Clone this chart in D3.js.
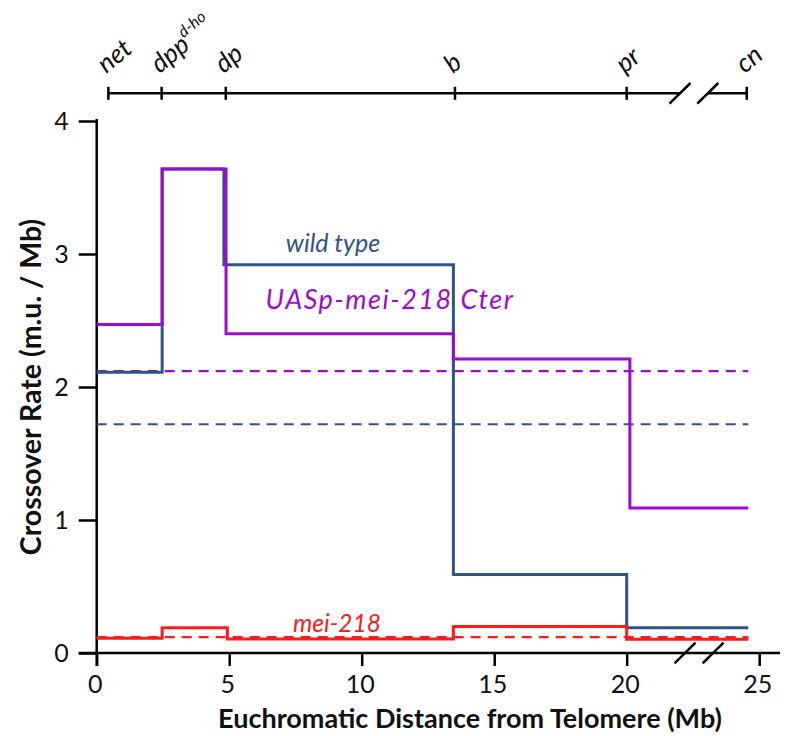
<!DOCTYPE html>
<html>
<head>
<meta charset="utf-8">
<script src="https://cdn.jsdelivr.net/npm/d3@7"></script>
<style>
  html, body { margin: 0; padding: 0; background: #fff; }
  svg { display: block; font-family: Lato, "Open Sans", sans-serif; }
</style>
</head>
<body>
<svg id="chart" width="786" height="736"></svg>
<script>
// Step boundaries (Mb) and crossover rates (m.u./Mb) for each genotype
const wildTypeBounds = [0, 2.47, 4.80, 13.46, 20.0, 24.59];
const wildTypeRates  = [2.11, 3.64, 2.92, 0.59, 0.19];
const wildTypeMean   = 1.72;

const cterBounds = [0, 2.47, 4.88, 13.46, 20.12, 24.59];
const cterRates  = [2.47, 3.64, 2.40, 2.21, 1.09];
const cterMean   = 2.12;

const mei218Bounds = [0, 2.47, 4.93, 13.46, 20.0, 24.59];
const mei218Rates  = [0.11, 0.19, 0.105, 0.20, 0.103];
const mei218Mean   = 0.12;

// Genetic markers along the chromosome arm (Mb)
const markerNames = ["net", "dpp", "dp", "b", "pr", "cn"];
const markerPos   = [0.44, 2.45, 4.87, 13.52, 20.0, 24.53];

const xTicks = [0, 5, 10, 15, 20, 25];
const yTicks = [0, 1, 2, 3, 4];

// Axis-break positions (Mb) on the marker map and on the distance axis
const mapBreaks  = [22.01, 23.06];
const axisBreaks = [22.2, 23.26];

const seriesLabels = ["wild type", "UASp-mei-218 Cter", "mei-218"];

const COL_WT = "#2f5486", COL_CTER = "#9a0ccf", COL_MEI = "#ff1a1a";

const svg = d3.select("#chart");
const x = d3.scaleLinear().domain([0, 25]).range([96.7, 759.2]);
const y = d3.scaleLinear().domain([0, 4]).range([653, 121]);

const END = 24.59;

// ---- helpers ----
function stepPoints(bounds, rates) {
  const pts = [];
  rates.forEach((r, i) => { pts.push([bounds[i], r]); pts.push([bounds[i + 1], r]); });
  return pts;
}
const line = d3.line().x(d => x(d[0])).y(d => y(d[1]));

function drawMean(v, color) {
  svg.append("path")
    .attr("d", line([[0, v], [END, v]]))
    .attr("fill", "none").attr("stroke", color)
    .attr("stroke-width", 2.2).attr("stroke-dasharray", "10,7");
}
function drawSteps(bounds, rates, color) {
  svg.append("path")
    .attr("d", line(stepPoints(bounds, rates)))
    .attr("fill", "none").attr("stroke", color)
    .attr("stroke-width", 3).attr("stroke-linejoin", "miter");
}
function slash(cx, cy) {
  svg.append("line")
    .attr("x1", cx - 10.5).attr("y1", cy + 10.3)
    .attr("x2", cx + 10.5).attr("y2", cy - 10.3)
    .attr("stroke", "#000").attr("stroke-width", 2.5);
}

// ---- left axis ----
const yAxis = d3.axisLeft(y).tickValues(yTicks).tickSize(18).tickPadding(10).tickFormat(d3.format("d"));
const gy = svg.append("g").attr("transform", `translate(${x(0)},0)`).call(yAxis);
gy.select(".domain").remove();
gy.selectAll(".tick line").attr("stroke", "#000").attr("stroke-width", 2.5);
gy.selectAll(".tick text").attr("font-size", 25).attr("fill", "#111").attr("font-family", "Lato");
gy.append("line").attr("x1", 0).attr("x2", 0).attr("y1", y(4) - 2).attr("y2", y(0) + 13)
  .attr("stroke", "#000").attr("stroke-width", 2.5);

// ---- bottom axis ----
const xAxis = d3.axisBottom(x).tickValues(xTicks).tickSize(13).tickPadding(9);
const gx = svg.append("g").attr("transform", `translate(0,${y(0)})`).call(xAxis);
gx.select(".domain").remove();
gx.selectAll(".tick line").attr("stroke", "#000").attr("stroke-width", 2.5);
gx.selectAll(".tick text").attr("font-size", 25).attr("fill", "#111").attr("font-family", "Lato").attr("dx", -2);
gx.append("line").attr("x1", x(0) - 18).attr("x2", 780).attr("y1", 0).attr("y2", 0)
  .attr("stroke", "#000").attr("stroke-width", 2.5);
axisBreaks.forEach(b => slash(x(b), y(0)));

// ---- axis titles ----
svg.append("text")
  .attr("x", 470).attr("y", 728).attr("text-anchor", "middle")
  .attr("font-size", 27).attr("font-weight", "bold").attr("fill", "#111")
  .text("Euchromatic Distance from Telomere (Mb)");
svg.append("text")
  .attr("transform", "translate(41,387) rotate(-90)").attr("text-anchor", "middle")
  .attr("font-size", 28.5).attr("font-weight", "bold").attr("fill", "#111")
  .text("Crossover Rate (m.u. / Mb)");

// ---- marker map on top ----
const mapY = 93.3;
const first = markerPos[0], last = markerPos[markerPos.length - 1];
svg.append("line").attr("x1", x(first)).attr("x2", x(mapBreaks[0])).attr("y1", mapY).attr("y2", mapY)
  .attr("stroke", "#000").attr("stroke-width", 2.5);
svg.append("line").attr("x1", x(mapBreaks[1])).attr("x2", x(last)).attr("y1", mapY).attr("y2", mapY)
  .attr("stroke", "#000").attr("stroke-width", 2.5);
mapBreaks.forEach(b => slash(x(b), mapY));
markerPos.forEach((p, i) => {
  svg.append("line").attr("x1", x(p)).attr("x2", x(p)).attr("y1", mapY - 6.5).attr("y2", mapY + 6.5)
    .attr("stroke", "#000").attr("stroke-width", 2.5);
  const t = svg.append("text")
    .attr("transform", `translate(${x(p) - 2},74) rotate(-40)`)
    .attr("font-size", 26).attr("font-style", "italic").attr("fill", "#111");
  t.append("tspan").text(markerNames[i]);
  if (markerNames[i] === "dpp") {
    t.append("tspan").attr("dy", -12).attr("font-size", 16).text("d-ho");
  }
});

// ---- data ----
drawMean(wildTypeMean, COL_WT);
drawMean(cterMean, COL_CTER);
drawSteps(wildTypeBounds, wildTypeRates, COL_WT);
drawSteps(cterBounds, cterRates, COL_CTER);
drawMean(mei218Mean, COL_MEI);
drawSteps(mei218Bounds, mei218Rates, COL_MEI);

// ---- series labels ----
const lab = (txt, cx, by, color, size, spacing) => svg.append("text")
  .attr("x", cx).attr("y", by).attr("text-anchor", "middle")
  .attr("font-size", size).attr("letter-spacing", spacing)
  .attr("font-style", "italic").attr("fill", color).text(txt);
lab(seriesLabels[0], 333, 252, COL_WT, 25, 0);
lab(seriesLabels[1], 390, 309, COL_CTER, 27, 1.5);
lab(seriesLabels[2], 337, 632, COL_MEI, 24.5, 0);
</script>
</body>
</html>
